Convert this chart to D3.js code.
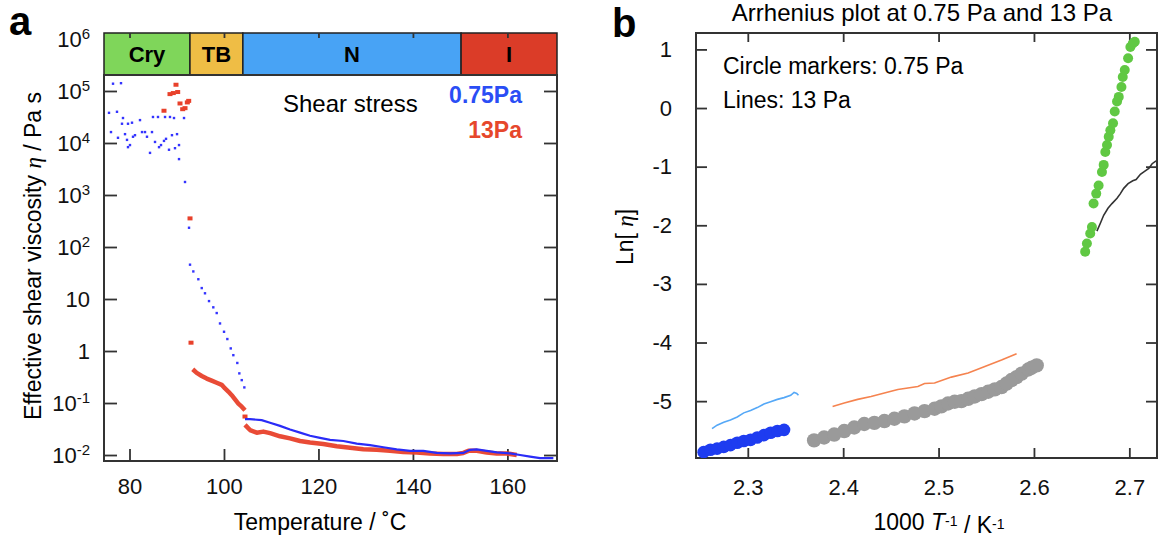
<!DOCTYPE html>
<html>
<head>
<meta charset="utf-8">
<script src="https://cdnjs.cloudflare.com/ajax/libs/d3/7.8.5/d3.min.js"></script>
<style>
  body { margin: 0; background: #fff; }
  svg { display: block; font-family: "Liberation Sans", Arial, sans-serif; }
</style>
</head>
<body>
<script>
'use strict';

// ---- panel a : temperature (deg C) vs log10 of viscosity (Pa s) ----
const tempRange = [74.6, 170.5];
const tempTicks = [80, 100, 120, 140, 160];
const viscTickExps = [6, 5, 4, 3, 2, 1, 0, -1, -2];
const phaseNames = ["Cry", "TB", "N", "I"];
const phaseEdges = [92.8, 104.0, 150.2];

// 0.75 Pa, scattered points in Cry
const blueCryPts = [[76.51,5.14],[78.2,5.15],[75.66,4.58],[77.35,4.6],[76.08,4.21],[77.56,4.1],
  [78.41,4.37],[78.62,4.48],[79.68,4.37],[80.53,4.39],[79.05,4.17],[79.47,4.06],[79.68,3.92],
  [80.1,3.96],[80.74,4.12],[81.16,4.15],[82.22,4.44],[82.65,4.21],[83.28,4.21],[83.7,4.12],
  [84.76,4.21],[84.97,4.5],[86.03,4.5],[85.4,4.02],[86.25,3.92],[86.67,3.96],[87.3,4.04],
  [87.73,4.08],[87.52,4.5],[88.57,4.5],[89.42,4.48],[91.54,4.48],[84.34,3.81],[88.36,3.87],
  [88.99,4.15],[90.06,4.17],[89.63,3.9],[90.48,3.96],[90.48,3.69],[91.75,3.25],[92.6,2.37]];
// 0.75 Pa, falling points in TB
const blueTbPts = [[92.81,1.66],[93.51,1.53],[94.57,1.38],[95.29,1.21],[95.98,1.11],[96.83,0.96],
  [97.74,0.84],[98.46,0.73],[99.16,0.53],[100.01,0.37],[100.71,0.23],[101.43,0.05],[101.98,-0.08],
  [102.82,-0.23],[103.25,-0.43],[103.76,-0.56],[104.31,-0.7]];
// 0.75 Pa, dense run in N and I
const blueLowCurve = [[104.45,-1.31],[105.51,-1.31],[107.99,-1.33],[109.75,-1.38],[111.86,-1.44],
  [113.98,-1.51],[116.1,-1.57],[118.22,-1.63],[120.33,-1.67],[122.45,-1.71],[125.27,-1.73],
  [128.1,-1.78],[130.92,-1.81],[133.74,-1.85],[136.57,-1.89],[139.39,-1.92],[142.2,-1.92],
  [145.04,-1.96],[147.86,-1.97],[150.67,-1.96],[152.09,-1.9],[153.51,-1.89],[155.63,-1.92],
  [157.75,-1.95],[160.56,-1.97],[162.68,-2.0],[164.8,-2.03],[166.91,-2.06],[169.73,-2.06]];

// 13 Pa, isolated points
const redPts = [[89.84,5.12],[88.57,4.94],[89.27,4.96],[90.2,4.98],[90.69,4.76],[91.26,4.65],
  [91.75,4.67],[92.24,4.78],[92.53,4.81],[87.3,4.62],[92.81,2.55],[93.02,0.16],[104.45,-1.26]];
// 13 Pa, dense run in TB
const redTbCurve = [[93.38,-0.35],[94.23,-0.42],[95.29,-0.48],[96.34,-0.53],[97.4,-0.57],
  [98.46,-0.61],[99.52,-0.65],[100.22,-0.72],[100.92,-0.78],[101.64,-0.85],[102.34,-0.93],
  [103.04,-1.01],[103.76,-1.07],[104.45,-1.14]];
// 13 Pa, dense run in N and I
const redLowCurve = [[104.45,-1.42],[105.51,-1.52],[106.93,-1.57],[108.33,-1.55],[109.75,-1.58],
  [111.86,-1.64],[113.98,-1.68],[116.1,-1.73],[118.22,-1.76],[121.03,-1.79],[123.87,-1.83],
  [126.69,-1.86],[129.5,-1.89],[132.34,-1.9],[135.16,-1.92],[137.97,-1.94],[140.81,-1.95],
  [143.62,-1.97],[146.44,-1.98],[149.28,-1.98],[150.67,-1.96],[151.73,-1.92],[153.51,-1.92],
  [155.63,-1.95],[157.75,-1.97],[159.87,-1.97],[161.98,-2.0]];

// ---- panel b : 1000/T (1/K) vs ln(viscosity) ----
const invTRange = [2.2457, 2.729];
const lnRange = [-5.97, 1.28];
const invTTicks = [2.3, 2.4, 2.5, 2.6, 2.7];
const lnTicks = [1, 0, -1, -2, -3, -4, -5];

const greenCircles = [[2.6537,-2.45],[2.6555,-2.31],[2.659,-2.14],[2.6608,-2.03],[2.6625,-1.63],
  [2.6653,-1.46],[2.6678,-1.32],[2.6713,-1.09],[2.6731,-0.97],[2.6748,-0.75],[2.6766,-0.63],
  [2.6784,-0.49],[2.6801,-0.38],[2.6829,-0.26],[2.6847,-0.06],[2.6871,0.11],[2.6889,0.19],
  [2.6917,0.36],[2.6931,0.53],[2.6952,0.65],[2.6987,0.85],[2.7011,1.04],[2.7036,1.1],[2.7057,1.13]];
const blackLine = [[2.666,-2.1],[2.6695,-1.97],[2.6731,-1.83],[2.6776,-1.71],[2.6818,-1.63],
  [2.6871,-1.54],[2.6906,-1.46],[2.6941,-1.37],[2.6987,-1.29],[2.7036,-1.24],[2.7071,-1.22],
  [2.7116,-1.13],[2.7152,-1.09],[2.7204,-1.03],[2.7239,-0.95],[2.7281,-0.9]];
const blueCircles = [[2.2537,-5.87],[2.2608,-5.83],[2.2678,-5.81],[2.2748,-5.78],[2.2818,-5.75],
  [2.2889,-5.71],[2.2958,-5.68],[2.3029,-5.66],[2.3099,-5.62],[2.3169,-5.58],[2.3239,-5.54],
  [2.331,-5.51],[2.338,-5.49]];
const lightBlueLine = [[2.2625,-5.47],[2.2678,-5.41],[2.2748,-5.36],[2.2818,-5.32],[2.2889,-5.27],
  [2.2958,-5.2],[2.3029,-5.16],[2.3099,-5.11],[2.3169,-5.05],[2.3239,-5.01],[2.331,-4.97],
  [2.338,-4.94],[2.345,-4.9],[2.3485,-4.85],[2.3513,-4.87],[2.3531,-4.9]];
const grayCircles = [[2.3695,-5.67],[2.38,-5.62],[2.3906,-5.57],[2.4011,-5.51],[2.4116,-5.45],
  [2.4221,-5.39],[2.4327,-5.37],[2.4432,-5.34],[2.4537,-5.3],[2.4642,-5.26],[2.4748,-5.21],
  [2.4853,-5.17],[2.4958,-5.13],[2.5029,-5.09],[2.5099,-5.04],[2.5169,-5.01],[2.5239,-5.0],
  [2.531,-4.96],[2.5379,-4.92],[2.545,-4.88],[2.552,-4.84],[2.559,-4.8],[2.566,-4.76],
  [2.5713,-4.7],[2.5765,-4.64],[2.5818,-4.59],[2.5871,-4.53],[2.5941,-4.46],[2.5976,-4.43],[2.6029,-4.39]];
const orangeLine = [[2.3889,-5.09],[2.4011,-5.03],[2.4152,-4.97],[2.4292,-4.92],[2.4432,-4.86],
  [2.4573,-4.8],[2.4783,-4.75],[2.4853,-4.7],[2.4958,-4.69],[2.5134,-4.59],[2.531,-4.52],
  [2.5485,-4.41],[2.566,-4.3],[2.5818,-4.19]];

(function() {

  let svgContainer = "";
  const phaseColors = ["#7fd65a", "#efbd45", "#48a3f5", "#db3c28"];
  const frameColor = "#333";

  window.onload = function() {
    svgContainer = d3.select('body')
      .append('svg')
      .attr('width', 1164)
      .attr('height', 539);
    drawPanelA();
    drawPanelB();
  };

  // strip the default axis styling and apply ours
  function styleAxis(g, size) {
    g.select('.domain').remove();
    g.attr('font-size', size)
      .attr('font-family', '"Liberation Sans", Arial, sans-serif')
      .attr('color', frameColor);
    g.selectAll('.tick line').attr('stroke-width', 1.8);
    g.selectAll('.tick text').attr('fill', '#111');
  }

  function drawPanelA() {
    const left = 104, right = 557, top = 33, barBottom = 75, bottom = 461;

    let xScale = d3.scaleLinear().domain(tempRange).range([left, right]);
    // y works on log10(eta)
    let yScale = d3.scaleLinear().domain([-2.115, 6.115]).range([bottom, top]);

    // phase bar
    let starts = [tempRange[0]].concat(phaseEdges);
    let ends = phaseEdges.concat([tempRange[1]]);
    let bar = svgContainer.append('g');
    bar.selectAll('rect')
      .data(phaseNames)
      .enter()
      .append('rect')
        .attr('x', (d, i) => xScale(starts[i]))
        .attr('y', top)
        .attr('width', (d, i) => xScale(ends[i]) - xScale(starts[i]))
        .attr('height', barBottom - top)
        .attr('fill', (d, i) => phaseColors[i])
        .attr('stroke', '#222')
        .attr('stroke-width', 1.5);
    bar.selectAll('text')
      .data(phaseNames)
      .enter()
      .append('text')
        .attr('x', (d, i) => (xScale(starts[i]) + xScale(ends[i])) / 2)
        .attr('y', (top + barBottom) / 2 + 8)
        .attr('text-anchor', 'middle')
        .style('font-size', '22px')
        .style('font-weight', 'bold')
        .text((d) => d);

    // plot frame
    svgContainer.append('rect')
      .attr('x', left).attr('y', barBottom)
      .attr('width', right - left).attr('height', bottom - barBottom)
      .attr('fill', 'none').attr('stroke', frameColor).attr('stroke-width', 2);

    // y axis with 10^n labels
    let yAxis = svgContainer.append('g')
      .attr('transform', `translate(${left}, 0)`)
      .call(d3.axisLeft(yScale).tickValues(viscTickExps).tickSize(-13).tickPadding(14).tickSizeOuter(0));
    styleAxis(yAxis, 22);
    yAxis.selectAll('.tick').filter((d) => d === 6).select('line').remove();
    yAxis.selectAll('.tick text').each(function(d) {
      let t = d3.select(this);
      t.text(null);
      if (d === 1) { t.text('10'); return; }
      if (d === 0) { t.text('1'); return; }
      t.append('tspan').text('10');
      t.append('tspan').attr('dy', '-0.5em').style('font-size', '15px').text(String(d));
    });

    let yRight = svgContainer.append('g')
      .attr('transform', `translate(${right}, 0)`)
      .call(d3.axisRight(yScale).tickValues(viscTickExps.filter((d) => d < 6)).tickSize(-13).tickFormat(''));
    styleAxis(yRight, 22);

    let xAxis = svgContainer.append('g')
      .attr('transform', `translate(0, ${bottom})`)
      .call(d3.axisBottom(xScale).tickValues(tempTicks).tickSize(-12).tickPadding(17));
    styleAxis(xAxis, 22);

    let xTop = svgContainer.append('g')
      .attr('transform', `translate(0, ${top})`)
      .call(d3.axisTop(xScale).tickValues(tempTicks).tickSize(-5).tickFormat(''));
    styleAxis(xTop, 22);

    let valueline = d3.line()
      .x((d) => xScale(d[0]))
      .y((d) => yScale(d[1]));

    // 13 Pa runs
    [redTbCurve, redLowCurve].forEach((c) => {
      svgContainer.append('path')
        .datum(c)
        .attr('d', valueline)
        .attr('fill', 'none')
        .attr('stroke', '#e8412b')
        .attr('stroke-width', 4.5)
        .attr('stroke-linejoin', 'round')
        .attr('opacity', 0.95);
    });
    svgContainer.append('g').selectAll('rect')
      .data(redPts)
      .enter()
      .append('rect')
        .attr('x', (d) => xScale(d[0]) - 2.5)
        .attr('y', (d) => yScale(d[1]) - 2)
        .attr('width', 5)
        .attr('height', 4)
        .attr('fill', '#e8412b');

    // 0.75 Pa
    svgContainer.append('path')
      .datum(blueLowCurve)
      .attr('d', valueline)
      .attr('fill', 'none')
      .attr('stroke', '#2a2cf7')
      .attr('stroke-width', 2.2);
    svgContainer.append('g').selectAll('rect')
      .data(blueCryPts.concat(blueTbPts))
      .enter()
      .append('rect')
        .attr('x', (d) => xScale(d[0]) - 1.2)
        .attr('y', (d) => yScale(d[1]) - 1.2)
        .attr('width', 2.4)
        .attr('height', 2.4)
        .attr('fill', '#3434ff');

    // annotations
    svgContainer.append('text')
      .attr('x', 283).attr('y', 112)
      .style('font-size', '24px')
      .text('Shear stress');
    svgContainer.append('text')
      .attr('x', 522).attr('y', 103)
      .attr('text-anchor', 'end')
      .style('font-size', '23px').style('font-weight', 'bold')
      .attr('fill', '#2a4df5')
      .text('0.75Pa');
    svgContainer.append('text')
      .attr('x', 522).attr('y', 138)
      .attr('text-anchor', 'end')
      .style('font-size', '23px').style('font-weight', 'bold')
      .attr('fill', '#e6472c')
      .text('13Pa');

    // axis titles
    let yTitle = svgContainer.append('text')
      .attr('transform', 'translate(41, 256)rotate(-90)')
      .attr('text-anchor', 'middle')
      .style('font-size', '23px');
    yTitle.append('tspan').text('Effective shear viscosity ');
    yTitle.append('tspan').style('font-family', '"Liberation Serif", serif').style('font-style', 'italic').text('η');
    yTitle.append('tspan').text(' / Pa s');

    svgContainer.append('text')
      .attr('x', 320).attr('y', 530)
      .attr('text-anchor', 'middle')
      .style('font-size', '23px')
      .text('Temperature / ˚C');

    svgContainer.append('text')
      .attr('x', 9).attr('y', 35)
      .style('font-size', '40px').style('font-weight', 'bold')
      .text('a');
  }

  function drawPanelB() {
    const left = 696, right = 1157, top = 33, bottom = 458;

    let xScale = d3.scaleLinear().domain(invTRange).range([left, right]);
    let yScale = d3.scaleLinear().domain(lnRange).range([bottom, top]);

    svgContainer.append('rect')
      .attr('x', left).attr('y', top)
      .attr('width', right - left).attr('height', bottom - top)
      .attr('fill', 'none').attr('stroke', frameColor).attr('stroke-width', 2);

    let yAxis = svgContainer.append('g')
      .attr('transform', `translate(${left}, 0)`)
      .call(d3.axisLeft(yScale).tickValues(lnTicks).tickSize(-11).tickPadding(24).tickFormat((d) => String(d)));
    styleAxis(yAxis, 22);
    let yRight = svgContainer.append('g')
      .attr('transform', `translate(${right}, 0)`)
      .call(d3.axisRight(yScale).tickValues(lnTicks).tickSize(-11).tickFormat(''));
    styleAxis(yRight, 22);
    let xAxis = svgContainer.append('g')
      .attr('transform', `translate(0, ${bottom})`)
      .call(d3.axisBottom(xScale).tickValues(invTTicks).tickSize(-10).tickPadding(21).tickFormat(d3.format('.1f')));
    styleAxis(xAxis, 22);
    let xTop = svgContainer.append('g')
      .attr('transform', `translate(0, ${top})`)
      .call(d3.axisTop(xScale).tickValues(invTTicks).tickSize(-9).tickFormat(''));
    styleAxis(xTop, 22);

    let clip = svgContainer.append('clipPath').attr('id', 'clipB')
      .append('rect').attr('x', left).attr('y', top).attr('width', right - left).attr('height', bottom - top);
    let plot = svgContainer.append('g').attr('clip-path', 'url(#clipB)');

    let valueline = d3.line()
      .x((d) => xScale(d[0]))
      .y((d) => yScale(d[1]));

    let circles = [
      { pts: blueCircles, r: 6.3, color: '#1e3cf0' },
      { pts: grayCircles, r: 7.2, color: '#9a9a9a' },
      { pts: greenCircles, r: 5, color: '#60c843' }
    ];
    circles.forEach((s) => {
      plot.append('g').selectAll('circle')
        .data(s.pts)
        .enter()
        .append('circle')
          .attr('cx', (d) => xScale(d[0]))
          .attr('cy', (d) => yScale(d[1]))
          .attr('r', s.r)
          .attr('fill', s.color);
    });

    let lines = [
      { pts: lightBlueLine, color: '#55a8f7' },
      { pts: orangeLine, color: '#f5834f' },
      { pts: blackLine, color: '#333333' }
    ];
    lines.forEach((s) => {
      plot.append('path')
        .datum(s.pts)
        .attr('d', valueline)
        .attr('fill', 'none')
        .attr('stroke', s.color)
        .attr('stroke-width', 1.6);
    });

    // texts
    svgContainer.append('text')
      .attr('x', 922).attr('y', 21)
      .attr('text-anchor', 'middle')
      .style('font-size', '24px')
      .text('Arrhenius plot at 0.75 Pa and 13 Pa');
    svgContainer.append('text')
      .attr('x', 723).attr('y', 74)
      .style('font-size', '23px')
      .text('Circle markers: 0.75 Pa');
    svgContainer.append('text')
      .attr('x', 723).attr('y', 108)
      .style('font-size', '23px')
      .text('Lines: 13 Pa');

    let yTitle = svgContainer.append('text')
      .attr('transform', 'translate(633, 237)rotate(-90)')
      .attr('text-anchor', 'middle')
      .style('font-size', '23px');
    yTitle.append('tspan').text('Ln[ ');
    yTitle.append('tspan').style('font-family', '"Liberation Serif", serif').style('font-style', 'italic').text('η');
    yTitle.append('tspan').text(']');

    let xTitle = svgContainer.append('text')
      .attr('x', 939).attr('y', 530)
      .attr('text-anchor', 'middle')
      .style('font-size', '23px');
    xTitle.append('tspan').text('1000 ');
    xTitle.append('tspan').style('font-style', 'italic').text('T');
    xTitle.append('tspan').attr('dy', '-0.3em').style('font-size', '14px').text('-1');
    xTitle.append('tspan').attr('dy', '0.3em').text(' / K');
    xTitle.append('tspan').attr('dy', '-0.3em').style('font-size', '14px').text('-1');

    svgContainer.append('text')
      .attr('x', 612).attr('y', 37)
      .style('font-size', '40px').style('font-weight', 'bold')
      .text('b');
  }

})();
</script>
</body>
</html>
